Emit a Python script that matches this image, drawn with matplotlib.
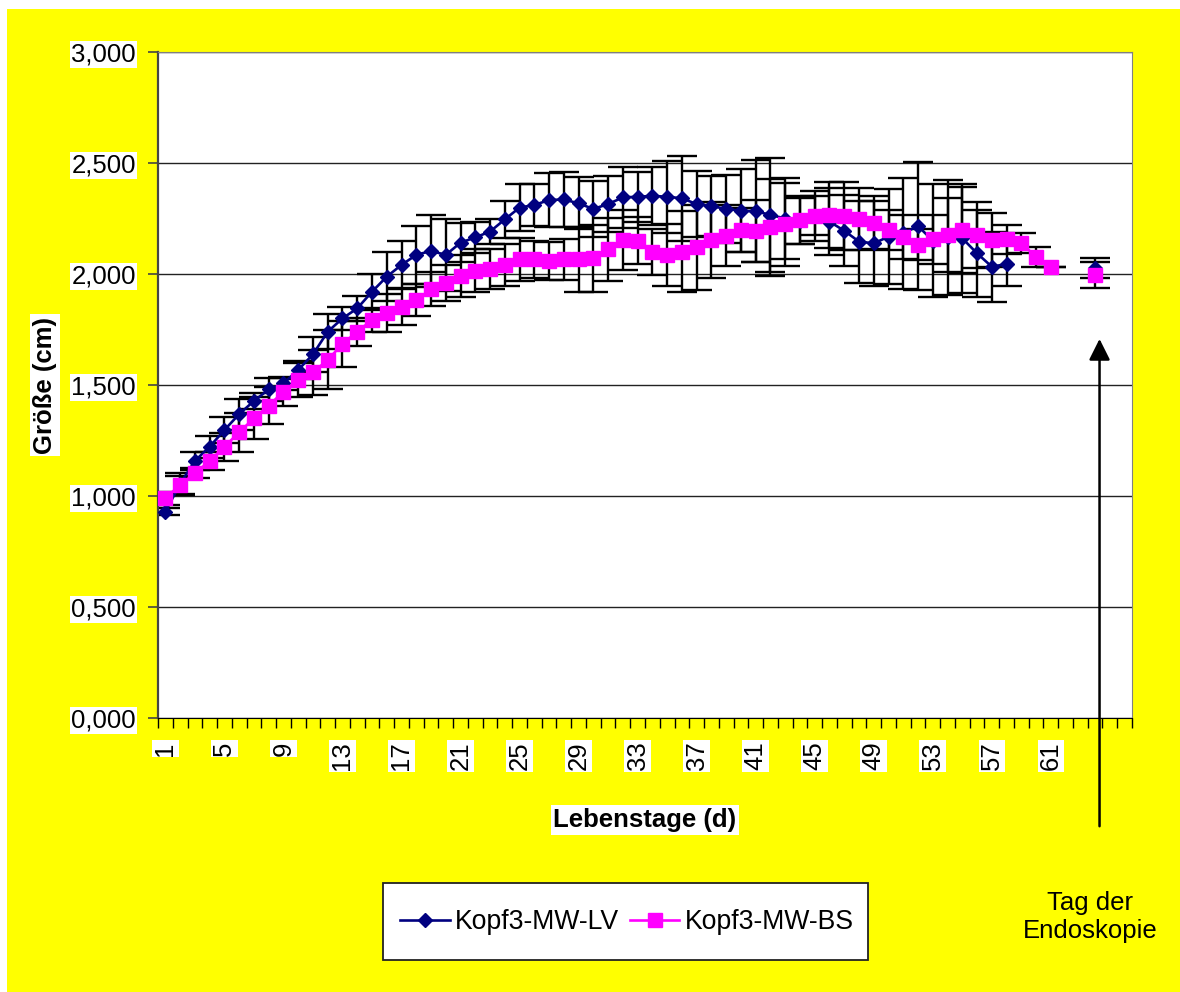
import matplotlib
matplotlib.use("Agg")
import matplotlib.pyplot as plt
import numpy as np
from matplotlib.patches import Rectangle
from matplotlib.ticker import FixedLocator, FuncFormatter

plt.rcParams['font.family'] = ['Liberation Sans', 'DejaVu Sans']

# Lebenstage 1..64 (None = kein Messwert)
days = list(range(1, 65))

kopf3_lv = [0.929, 1.055, 1.158, 1.222, 1.297, 1.369, 1.428, 1.480, 1.507, 1.568,
            1.638, 1.740, 1.800, 1.845, 1.920, 1.988, 2.041, 2.086, 2.104, 2.086,
            2.141, 2.165, 2.191, 2.246, 2.299, 2.311, 2.333, 2.336, 2.318, 2.293,
            2.315, 2.345, 2.348, 2.352, 2.348, 2.341, 2.315, 2.306, 2.293, 2.285,
            2.283, 2.266, 2.250, 2.240, 2.262, 2.236, 2.195, 2.146, 2.138, 2.168,
            2.183, 2.216, 2.150, 2.165, 2.161, 2.093, 2.033, 2.045, None, None,
            None, None, None, 2.025]
kopf3_lv_err = [0.015, 0.05, 0.04, 0.05, 0.06, 0.07, 0.035, 0.05, 0.03, 0.04,
                0.08, 0.08, 0.05, 0.055, 0.08, 0.11, 0.109, 0.132, 0.162, 0.164,
                0.087, 0.071, 0.057, 0.084, 0.106, 0.094, 0.12, 0.125, 0.117, 0.126,
                0.126, 0.136, 0.113, 0.131, 0.162, 0.192, 0.15, 0.135, 0.153, 0.188,
                0.229, 0.258, 0.181, 0.104, 0.112, 0.15, 0.16, 0.185, 0.19, 0.215,
                0.25, 0.29, 0.255, 0.26, 0.245, 0.195, 0.157, 0.1, None, None,
                None, None, None, 0.045]

kopf3_bs = [0.990, 1.050, 1.102, 1.158, 1.222, 1.287, 1.350, 1.407, 1.470, 1.523,
            1.557, 1.613, 1.685, 1.740, 1.793, 1.825, 1.853, 1.883, 1.932, 1.961,
            1.991, 2.014, 2.021, 2.041, 2.066, 2.066, 2.059, 2.066, 2.066, 2.071,
            2.111, 2.153, 2.150, 2.098, 2.086, 2.101, 2.120, 2.153, 2.173, 2.198,
            2.194, 2.210, 2.224, 2.243, 2.263, 2.266, 2.261, 2.246, 2.231, 2.198,
            2.168, 2.131, 2.156, 2.176, 2.198, 2.176, 2.153, 2.156, 2.138, 2.078,
            2.033, None, None, 1.995]
kopf3_bs_err = [0.03, 0.04, 0.022, 0.041, 0.063, 0.087, 0.095, 0.083, 0.063, 0.075,
                0.1, 0.133, 0.105, 0.064, 0.053, 0.086, 0.083, 0.071, 0.075, 0.081,
                0.093, 0.097, 0.09, 0.094, 0.096, 0.083, 0.086, 0.093, 0.146, 0.151,
                0.141, 0.135, 0.106, 0.103, 0.139, 0.181, 0.192, 0.172, 0.136, 0.1,
                0.138, 0.219, 0.187, 0.11, 0.087, 0.15, 0.155, 0.14, 0.12, 0.09,
                0.1, 0.07, 0.11, 0.165, 0.195, 0.15, 0.12, 0.065, 0.045, 0.045,
                0.0, None, None, 0.06]

tick_days = list(range(1, 62, 4))
n_cat = 66
endo_day = 64.3


def arr(v):
    return np.array([np.nan if x is None else x for x in v], dtype=float)


fig = plt.figure(figsize=(11.8, 9.92), dpi=100, facecolor='white')
fig.patches.append(Rectangle((7 / 1180, 0), 1 - 7 / 1180, 1 - 9 / 992,
                             transform=fig.transFigure, facecolor='#FFFF00',
                             edgecolor='none', zorder=-10))

ax = fig.add_axes([158 / 1180, 1 - 718 / 992, (1132 - 158) / 1180, (718 - 52) / 992])
ax.set_facecolor('white')

x = np.array(days)
lv, lv_e = arr(kopf3_lv), arr(kopf3_lv_err)
bs, bs_e = arr(kopf3_bs), arr(kopf3_bs_err)

ax.errorbar(x, lv, yerr=lv_e, fmt='none', ecolor='black', elinewidth=1.7,
            capsize=11, capthick=1.7, zorder=2)
ax.errorbar(x, bs, yerr=bs_e, fmt='none', ecolor='black', elinewidth=1.7,
            capsize=11, capthick=1.7, zorder=2)
ax.plot(x, lv, color='#000080', lw=1.9, marker='D', ms=7.6,
        mfc='#000080', mec='#000080', label='Kopf3-MW-LV', zorder=3)
ax.plot(x, bs, color='#FF00FF', lw=1.9, marker='s', ms=10,
        mfc='#FF00FF', mec='#FF00FF', label='Kopf3-MW-BS', zorder=4)

ax.set_xlim(0.5, n_cat + 0.5)
ax.set_ylim(0, 3)
ax.set_yticks(np.arange(0, 3.01, 0.5))
ax.yaxis.set_major_formatter(FuncFormatter(lambda v, p: f"{v:.3f}".replace('.', ',')))
ax.grid(axis='y', color='#222222', lw=1)
ax.set_axisbelow(True)

ax.xaxis.set_major_locator(FixedLocator(tick_days))
ax.xaxis.set_minor_locator(FixedLocator(np.arange(0.5, n_cat + 1, 1)))
ax.set_xticklabels([str(d) for d in tick_days], rotation=90)
ax.tick_params(axis='x', which='major', length=0, pad=17, labelsize=18.5)
ax.tick_params(axis='x', which='minor', length=7, width=1, color='black', direction='out')
ax.tick_params(axis='y', length=7, width=1.2, color='#444444', pad=9, labelsize=18.5)
for lab in ax.get_xticklabels() + ax.get_yticklabels():
    lab.set_bbox(dict(facecolor='white', edgecolor='none', pad=1))

for side in ['top', 'right']:
    ax.spines[side].set_color('#808080')
ax.spines['left'].set_color('#444444')
ax.spines['left'].set_linewidth(1.6)
ax.spines['bottom'].set_color('black')

ax.set_xlabel('Lebenstage (d)', fontsize=18.5, fontweight='bold', va='center',
              bbox=dict(facecolor='white', edgecolor='none', pad=2))
ax.xaxis.set_label_coords(0.5, -(820 - 718) / 666)
ax.set_ylabel('Größe (cm)', fontsize=18.5, fontweight='bold', va='center',
              bbox=dict(facecolor='white', edgecolor='none', pad=2))
ax.yaxis.set_label_coords(-(158 - 45) / 974, 0.5)

# Pfeil: Tag der Endoskopie
ax.annotate('', xy=(endo_day, 1.72), xytext=(endo_day, -0.5),
            arrowprops=dict(arrowstyle='-|>', color='black', lw=1.8,
                            mutation_scale=32),
            annotation_clip=False, zorder=5)
fig.text(1090 / 1180, 1 - 917 / 992, 'Tag der\nEndoskopie', ha='center',
         va='center', fontsize=18.5, linespacing=1.25)

# Legendenrahmen separat, damit Breite/Hoehe wie im Original
fig.patches.append(Rectangle((383 / 1180, 1 - 960 / 992), (868 - 383) / 1180,
                             (960 - 883) / 992, transform=fig.transFigure,
                             facecolor='white', edgecolor='#222222', lw=1.3,
                             zorder=-5))
leg = ax.legend(loc='center', bbox_to_anchor=(627 / 1180, 1 - 922 / 992),
                bbox_transform=fig.transFigure, ncol=2, fontsize=19.2,
                frameon=False, handlelength=1.85, columnspacing=0.4,
                handletextpad=0.2, borderpad=0.2)

fig.savefig('out.png', dpi=100, facecolor=fig.get_facecolor())
